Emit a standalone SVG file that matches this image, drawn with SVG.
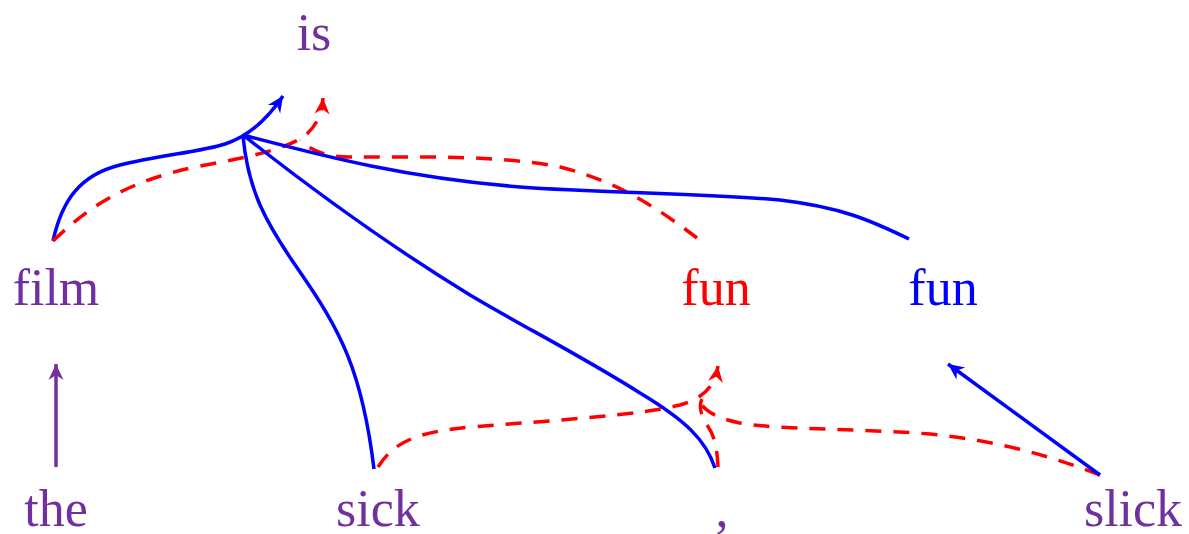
<svg xmlns="http://www.w3.org/2000/svg" width="1189" height="534" viewBox="0 0 1189 534">
<style>
text{font-family:"Liberation Serif","Times New Roman",serif;font-size:52px;text-anchor:middle}
.p{fill:#7030A0}.b{fill:#0000FF}.r{fill:#FF0000}
.e{fill:none;stroke-width:3.5;stroke-linecap:butt}
.eb{stroke:#0000FF}.er{stroke:#FF0000;stroke-dasharray:16 12}.ep{stroke:#7030A0}
</style>
<defs>
<marker id="ab" markerUnits="userSpaceOnUse" markerWidth="22" markerHeight="22" viewBox="-18 -11 22 22" refX="0" refY="0" orient="auto"><path d="M0,0 L-16,-7.5 L-11,0 L-16,7.5 Z" fill="#0000FF"/></marker>
<marker id="ar" markerUnits="userSpaceOnUse" markerWidth="22" markerHeight="22" viewBox="-18 -11 22 22" refX="0" refY="0" orient="auto"><path d="M0,0 L-16,-7.5 L-11,0 L-16,7.5 Z" fill="#FF0000"/></marker>
<marker id="ap" markerUnits="userSpaceOnUse" markerWidth="22" markerHeight="22" viewBox="-18 -11 22 22" refX="0" refY="0" orient="auto"><path d="M0,0 L-16,-7.5 L-11,0 L-16,7.5 Z" fill="#7030A0"/></marker>
</defs>
<g id="n-is"><text class="p" x="314" y="50">is</text></g>
<g id="n-film"><text class="p" x="56" y="305">film</text></g>
<g id="n-fun-red"><text class="r" x="716" y="305">fun</text></g>
<g id="n-fun-blue"><text class="b" x="943" y="305">fun</text></g>
<g id="n-the"><text class="p" x="56" y="526">the</text></g>
<g id="n-sick"><text class="p" x="378" y="526">sick</text></g>
<g id="n-comma"><text class="p" x="722" y="526">,</text></g>
<g id="n-slick"><text class="p" x="1133" y="526">slick</text></g>
<g id="connectors">
<path class="e ep" d="M56,467 L56,364" marker-end="url(#ap)"/>
<path class="e eb" d="M53,241 C62,200 80,175 120,165 C160,155 200,152 225,144 C250,136 268,118 283,96" marker-end="url(#ab)"/>
<path class="e er" d="M53,241 C90,205 130,180 200,166 C250,157 280,150 300,139 C315,130 322,115 323,98" marker-end="url(#ar)"/>
<path class="e er" d="M697,238 C660,210 620,182 560,167 C500,155 420,157 350,157 C325,157 310,150 300,140"/>
<path class="e eb" d="M909,239 C870,220 840,207 780,200 C700,193 600,193 520,187 C400,177 320,155 243,135"/>
<path class="e eb" d="M374,469 C362,370 340,330 300,272 C265,222 248,190 243,136"/>
<path class="e eb" d="M715,468 C706,440 685,420 640,393 C580,355 520,325 470,295 C380,240 300,180 243,135"/>
<path class="e er" d="M378,467 C395,440 420,432 470,427 C560,420 640,415 680,405 C705,398 715,385 718,366" marker-end="url(#ar)"/>
<path class="e er" d="M718,467 C717,445 714,435 707,425 C700,414 699,405 702,399"/>
<path class="e er" d="M1100,475 C1040,452 990,440 930,434 C850,428 780,430 740,423 C720,419 705,412 700,402"/>
<path class="e eb" d="M1100,475 L948,364" marker-end="url(#ab)"/>
</g>
</svg>
